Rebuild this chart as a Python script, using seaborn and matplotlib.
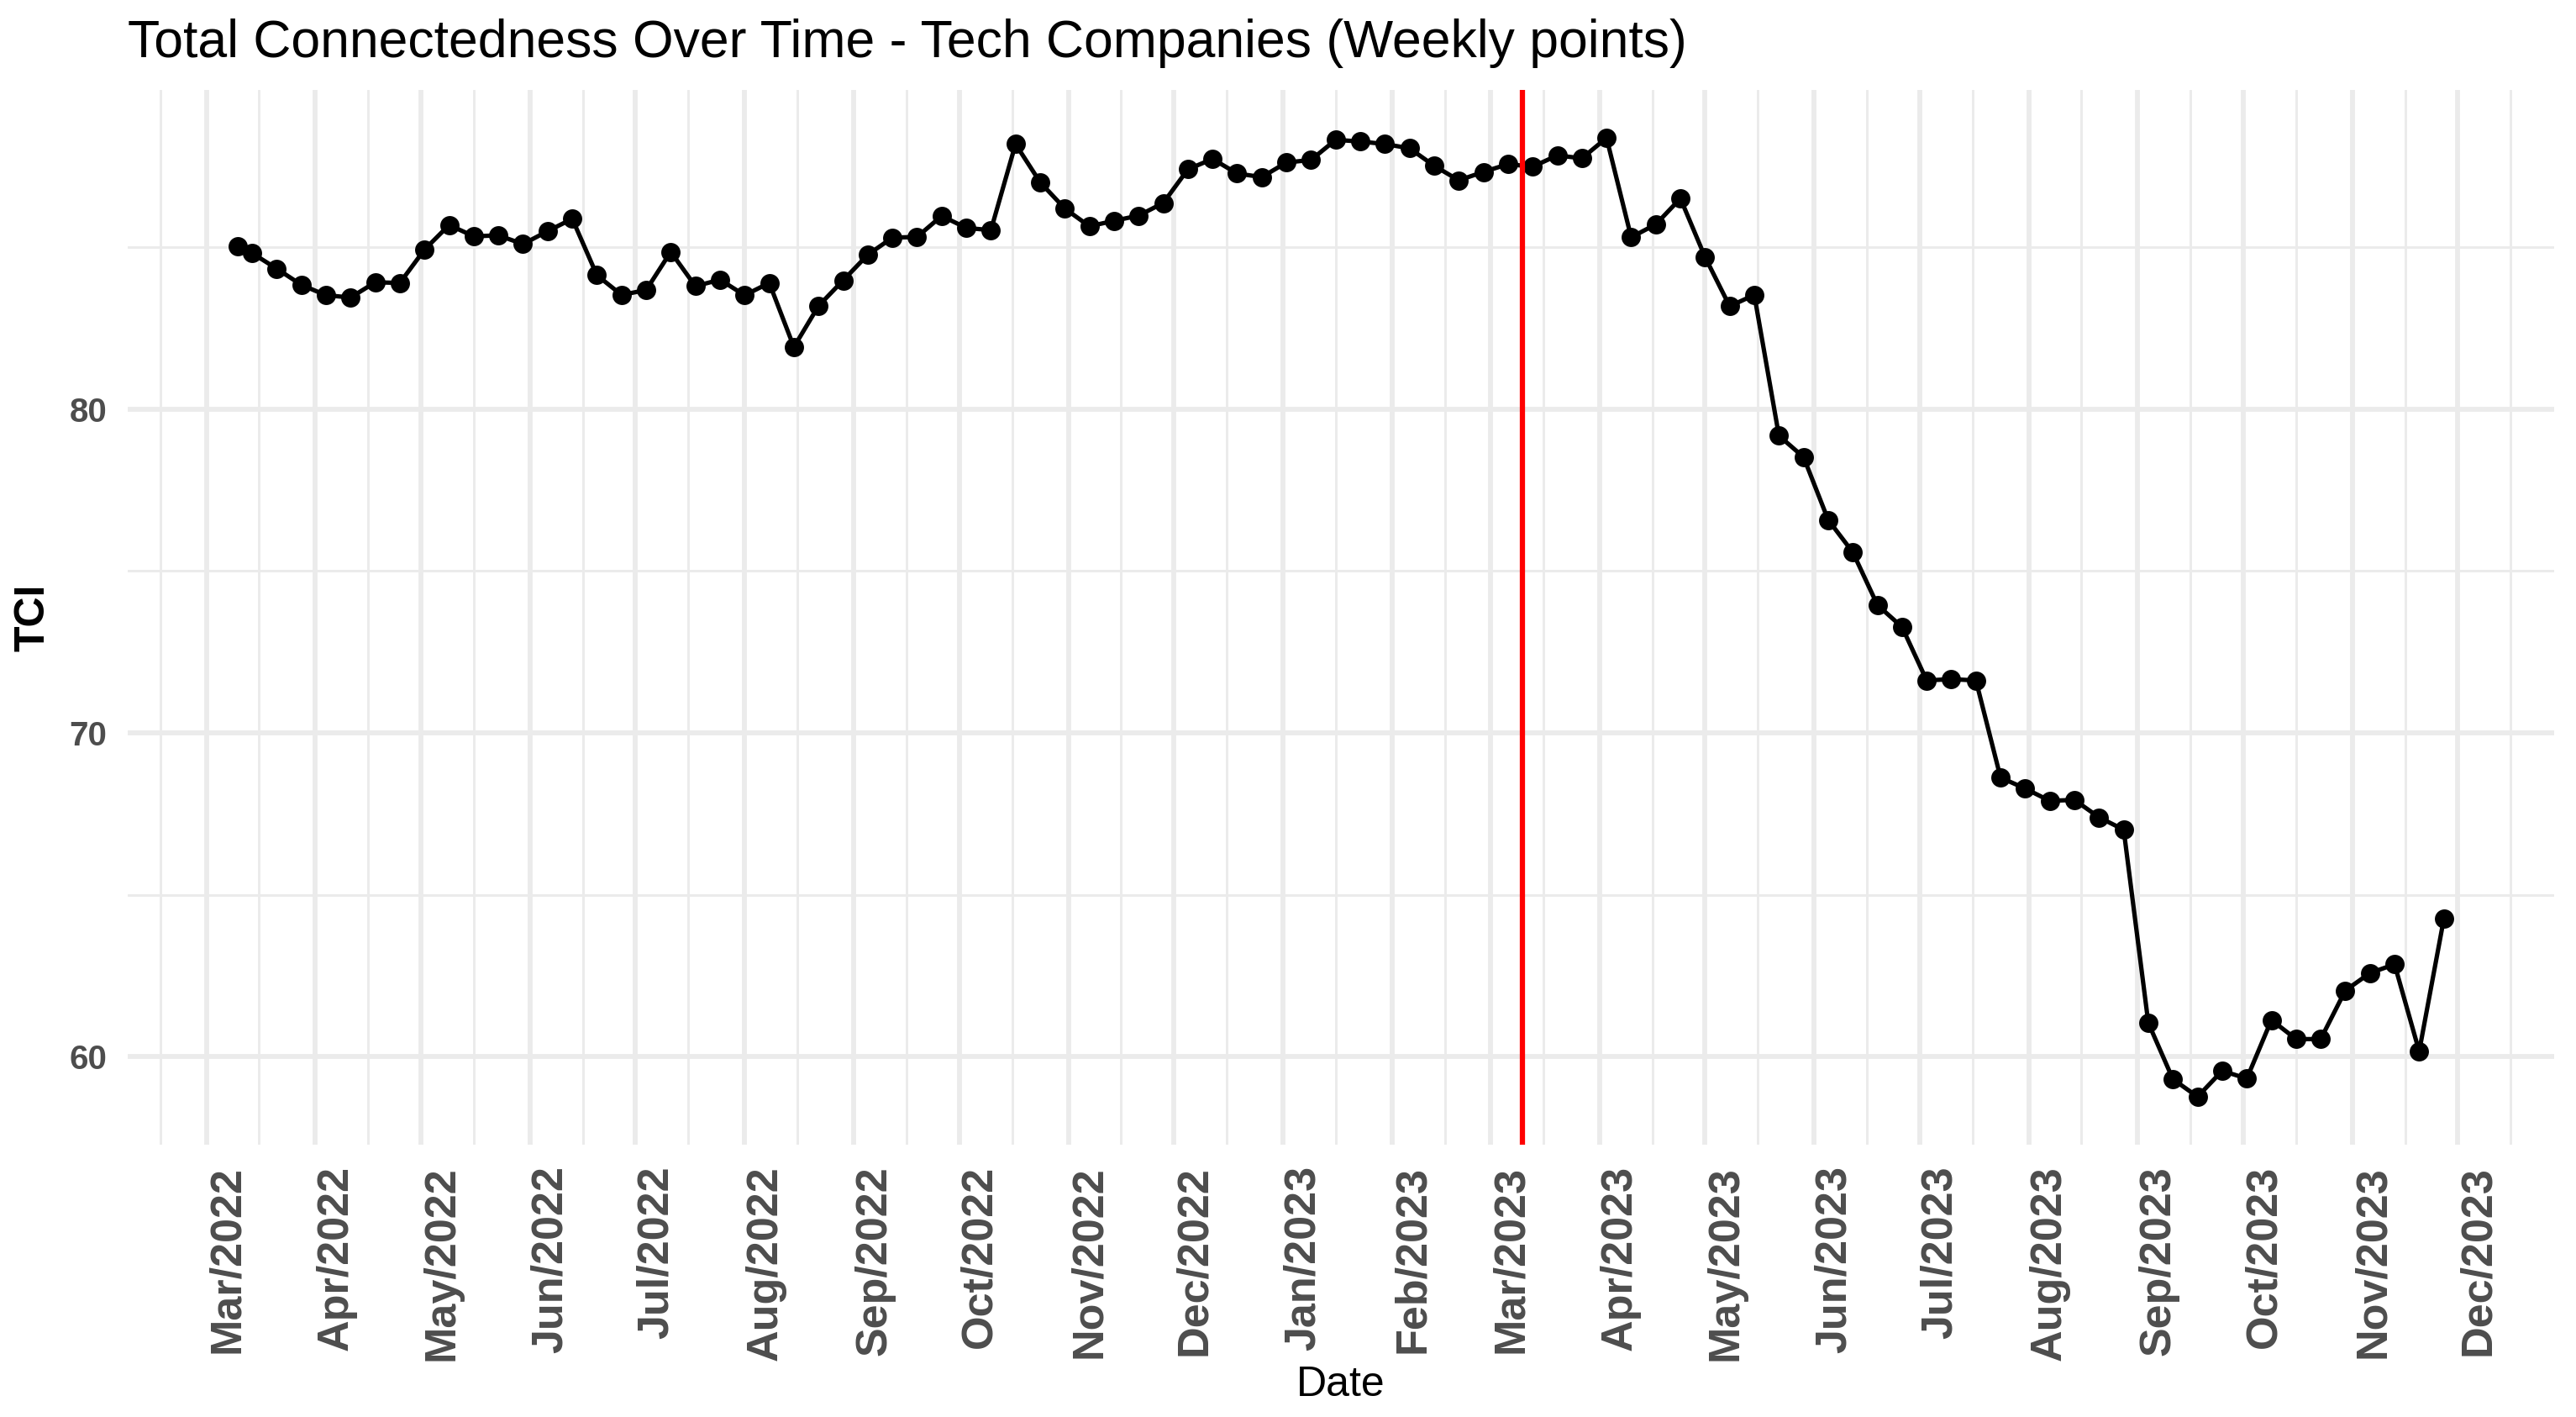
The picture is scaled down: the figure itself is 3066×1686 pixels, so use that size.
import matplotlib
matplotlib.use("Agg")
import matplotlib.pyplot as plt
import matplotlib.dates as mdates
import pandas as pd
import seaborn as sns

# first observation is a Thursday, the rest are Monday week starts
first_date = "2022-03-10"
weekly_start = "2022-03-14"
n_weekly = 90
event_date = "2023-03-10"

tci = [85.03, 84.82, 84.34, 83.84, 83.52, 83.45, 83.92, 83.90, 84.93, 85.69,
       85.34, 85.37, 85.10, 85.50, 85.88, 84.14, 83.53, 83.68, 84.86, 83.80,
       84.00, 83.52, 83.90, 81.92, 83.19, 83.98, 84.77, 85.30, 85.32, 85.97,
       85.60, 85.53, 88.19, 87.01, 86.20, 85.65, 85.82, 85.98, 86.37, 87.41,
       87.73, 87.28, 87.17, 87.62, 87.70, 88.32, 88.27, 88.19, 88.06, 87.52,
       87.07, 87.33, 87.57, 87.49, 87.84, 87.75, 88.38, 85.31, 85.71, 86.51,
       84.70, 83.18, 83.53, 79.18, 78.52, 76.58, 75.58, 73.95, 73.27, 71.62,
       71.66, 71.62, 68.62, 68.28, 67.90, 67.93, 67.39, 67.01, 61.04, 59.30,
       58.76, 59.56, 59.32, 61.13, 60.54, 60.54, 62.04, 62.58, 62.85, 60.16, 64.25]

title = "Total Connectedness Over Time - Tech Companies (Weekly points)"

dates = pd.DatetimeIndex([first_date]).append(
    pd.date_range(weekly_start, periods=n_weekly, freq="7D"))
df = pd.DataFrame({"Date": dates, "TCI": tci})

sns.set_theme(style="white")
plt.rcParams["font.family"] = ["Liberation Sans", "DejaVu Sans"]

fig = plt.figure(figsize=(10.22, 5.62), dpi=300)
ax = fig.add_axes([0.0496, 0.1922, 0.9419, 0.7443])

sns.lineplot(data=df, x="Date", y="TCI", ax=ax, color="black", linewidth=1.25,
             marker="o", markersize=5.5, markeredgewidth=0, zorder=3)
ax.axvline(pd.Timestamp(event_date), color="red", linewidth=1.5, zorder=4)

# ggplot-style 5% expansion
span = df["Date"].max() - df["Date"].min()
ax.set_xlim(df["Date"].min() - span * 0.05, df["Date"].max() + span * 0.05)
yr = max(tci) - min(tci)
ax.set_ylim(min(tci) - yr * 0.05, max(tci) + yr * 0.05)

ax.xaxis.set_major_locator(mdates.MonthLocator())
ax.xaxis.set_minor_locator(mdates.MonthLocator(bymonthday=16))
ax.xaxis.set_major_formatter(mdates.DateFormatter("%b/%Y"))
ax.yaxis.set_major_locator(matplotlib.ticker.MultipleLocator(10))
ax.yaxis.set_minor_locator(matplotlib.ticker.MultipleLocator(5))

ax.grid(which="major", color="#EBEBEB", linewidth=1.4, zorder=0)
ax.grid(which="minor", color="#EBEBEB", linewidth=0.7, zorder=0)
ax.set_axisbelow(True)
for s in ax.spines.values():
    s.set_visible(False)

ax.tick_params(axis="x", which="both", length=0, pad=6, labelsize=12.5,
               labelcolor="#4D4D4D")
ax.tick_params(axis="y", which="both", length=0, pad=6, labelsize=9.7,
               labelcolor="#4D4D4D")
for lab in ax.get_xticklabels():
    lab.set_fontweight("bold")
    lab.set_rotation(90)
    lab.set_rotation_mode("anchor")
    lab.set_ha("right")
    lab.set_va("top")
for lab in ax.get_yticklabels():
    lab.set_fontweight("bold")

ax.set_title(title, loc="left", fontsize=15, pad=9.4, color="black")
ax.set_xlabel("Date", fontsize=12, color="black")
ax.set_ylabel("TCI", fontsize=12, fontweight="bold", color="black")
ax.xaxis.set_label_coords(0.5, -0.228)
ax.xaxis.label.set_va("center")
ax.yaxis.set_label_coords(-0.039, 0.5)
ax.yaxis.label.set_va("center")

fig.savefig("out.png", dpi=300, facecolor="white")
